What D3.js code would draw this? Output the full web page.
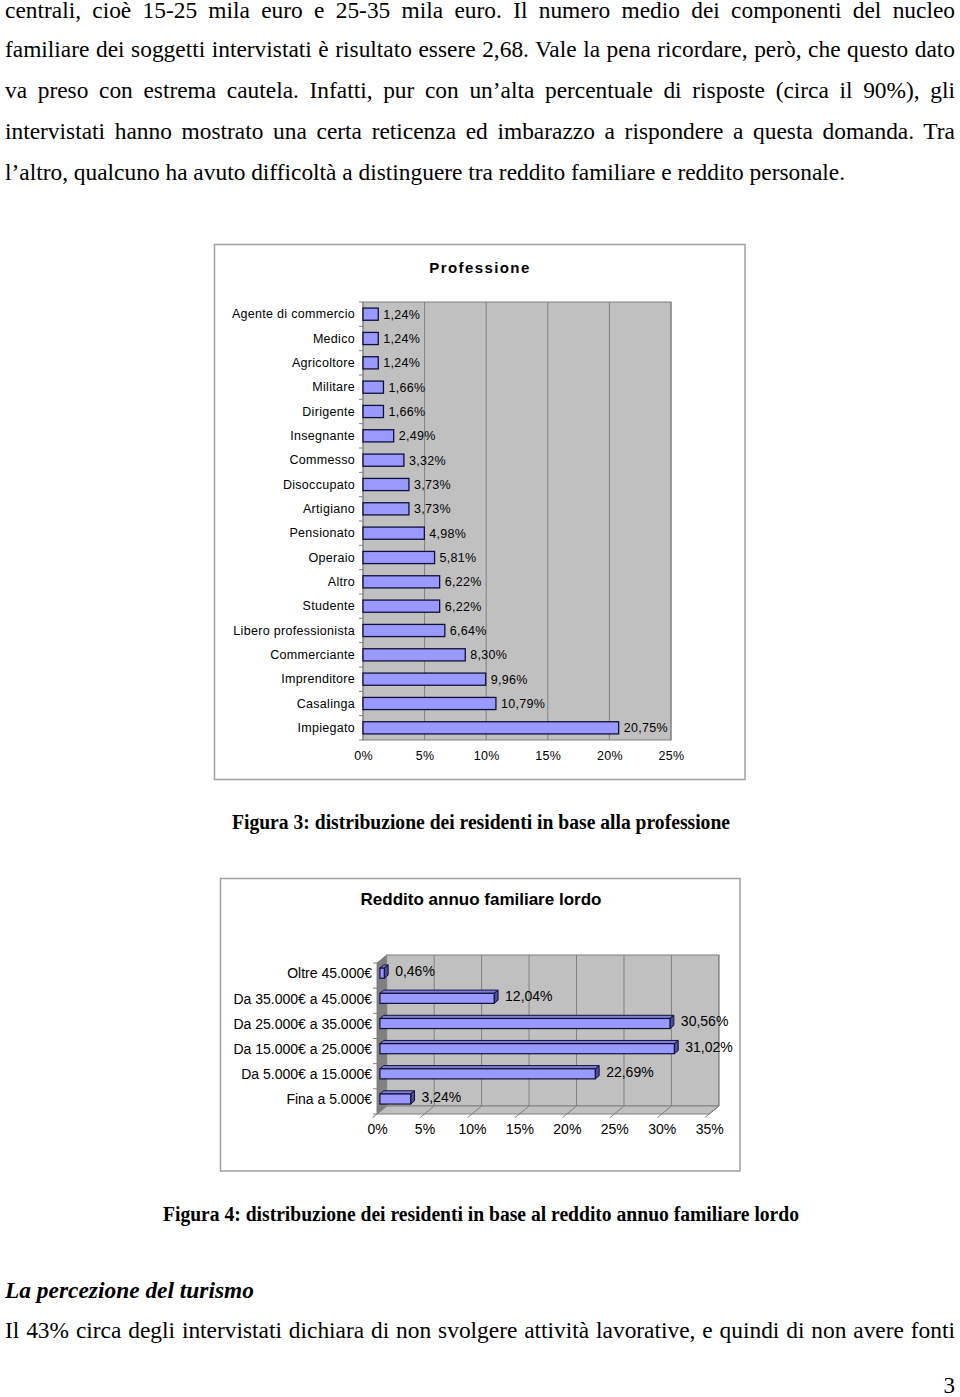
<!DOCTYPE html>
<html><head><meta charset="utf-8">
<script src="https://cdn.jsdelivr.net/npm/d3@7"></script>
<style>body{margin:0;background:#fff}svg{display:block}</style>
</head><body>
<script>
// ---------- DATA ----------
const profCategories = ["Agente di commercio","Medico","Agricoltore","Militare","Dirigente","Insegnante","Commesso","Disoccupato","Artigiano","Pensionato","Operaio","Altro","Studente","Libero professionista","Commerciante","Imprenditore","Casalinga","Impiegato"];
const profValues = [1.24,1.24,1.24,1.66,1.66,2.49,3.32,3.73,3.73,4.98,5.81,6.22,6.22,6.64,8.30,9.96,10.79,20.75];
const profTicks = [0,5,10,15,20,25];
const profTitle = "Professione";

const incomeCategories = ["Oltre 45.000€","Da 35.000€ a 45.000€","Da 25.000€ a 35.000€","Da 15.000€ a 25.000€","Da 5.000€ a 15.000€","Fina a 5.000€"];
const incomeValues = [0.46,12.04,30.56,31.02,22.69,3.24];
const incomeTicks = [0,5,10,15,20,25,30,35];
const incomeTitle = "Reddito annuo familiare lordo";

const introLines = [
  "centrali, cioè 15-25 mila euro e 25-35 mila euro. Il numero medio dei componenti del nucleo",
  "familiare dei soggetti intervistati è risultato essere 2,68. Vale la pena ricordare, però, che questo dato",
  "va preso con estrema cautela. Infatti, pur con un’alta percentuale di risposte (circa il 90%), gli",
  "intervistati hanno mostrato una certa reticenza ed imbarazzo a rispondere a questa domanda. Tra",
  "l’altro, qualcuno ha avuto difficoltà a distinguere tra reddito familiare e reddito personale."
];
const fig3Caption = "Figura 3: distribuzione dei residenti in base alla professione";
const fig4Caption = "Figura 4: distribuzione dei residenti in base al reddito annuo familiare lordo";
const headingText = "La percezione del turismo";
const closingLine = "Il 43% circa degli intervistati dichiara di non svolgere attività lavorative, e quindi di non avere fonti";
const pageNumber = "3";

// ---------- SETUP ----------
const W = 960, H = 1397;
const serif = "'Liberation Serif','Times New Roman',serif";
const sans = "'Liberation Sans',Arial,sans-serif";
const fmt = v => d3.format(".2f")(v).replace(".", ",") + "%";

const svg = d3.select("body").append("svg").attr("width", W).attr("height", H);
svg.append("rect").attr("width", W).attr("height", H).attr("fill", "#fff");

function textLine(str, x, y, o) {
  const t = svg.append("text").attr("x", x).attr("y", y)
    .attr("font-family", o.family || serif).attr("font-size", o.size)
    .attr("font-weight", o.weight || "normal").attr("font-style", o.style || "normal")
    .attr("fill", "#000").text(str);
  if (o.anchor) t.attr("text-anchor", o.anchor);
  if (o.justifyTo) {
    const nat = t.node().getComputedTextLength();
    const spaces = (str.match(/ /g) || []).length;
    const ws = (o.justifyTo - nat) / spaces;
    t.style("word-spacing", ws + "px");
  }
  if (o.fitTo) t.attr("textLength", o.fitTo).attr("lengthAdjust", "spacingAndGlyphs");
  return t;
}

// ---------- BODY TEXT ----------
const introBase = [18, 57, 98, 139, 180];
introLines.forEach((l, i) => {
  textLine(l, 5, introBase[i], {size: 23.4, justifyTo: i < 4 ? 950 : null});
});
textLine(fig3Caption, 232, 829, {size: 20, weight: "bold", fitTo: 498});
textLine(fig4Caption, 163, 1221, {size: 20, weight: "bold", fitTo: 636});
textLine(headingText, 5, 1298, {size: 23, weight: "bold", style: "italic", fitTo: 249});
textLine(closingLine, 5, 1338, {size: 23.4, justifyTo: 950});
textLine(pageNumber, 955, 1393, {size: 23, anchor: "end"});

// ---------- CHART 1: Professione ----------
{
  const g = svg.append("g");
  g.append("rect").attr("x", 214.5).attr("y", 244.5).attr("width", 530.5).attr("height", 535)
    .attr("fill", "#fff").attr("stroke", "#a0a0a0").attr("stroke-width", 1.5);
  g.append("text").attr("x", 480).attr("y", 273).attr("text-anchor", "middle")
    .attr("font-family", sans).attr("font-size", 15).attr("font-weight", "bold")
    .attr("letter-spacing", 1.4).text(profTitle);

  const x = d3.scaleLinear().domain([0, 25]).range([363, 671]);
  const y = d3.scaleBand().domain(profCategories).range([302, 740]).paddingInner(0.5).paddingOuter(0.25);

  g.append("rect").attr("x", x(0)).attr("y", 302).attr("width", x(25) - x(0)).attr("height", 438)
    .attr("fill", "#c0c0c0").attr("stroke", "#808080").attr("stroke-width", 1);
  g.selectAll(".grid").data(profTicks.slice(1)).join("line")
    .attr("x1", d => x(d)).attr("x2", d => x(d)).attr("y1", 302).attr("y2", 740)
    .attr("stroke", "#808080").attr("stroke-width", 1);
  const step = y.step();
  g.selectAll(".ctick").data(d3.range(profCategories.length + 1)).join("line")
    .attr("x1", x(0) - 4).attr("x2", x(0)).attr("y1", i => 302 + i * step).attr("y2", i => 302 + i * step)
    .attr("stroke", "#808080");
  g.append("line").attr("x1", x(0)).attr("x2", x(0)).attr("y1", 302).attr("y2", 740).attr("stroke", "#808080");

  const ax = g.append("g").attr("transform", `translate(${x(0)},0)`)
    .call(d3.axisLeft(y).tickSize(0).tickPadding(8));
  ax.select(".domain").remove();
  ax.selectAll("text").attr("font-family", sans).attr("font-size", 12.5).attr("letter-spacing", 0.3).attr("fill", "#000");

  const bx = g.append("g").attr("transform", `translate(0,740)`)
    .call(d3.axisBottom(x).tickValues(profTicks).tickFormat(d => d + "%").tickSize(0).tickPadding(11.5));
  bx.select(".domain").remove();
  bx.selectAll("text").attr("font-family", sans).attr("font-size", 12.5).attr("letter-spacing", 0.3).attr("fill", "#000");

  g.selectAll(".bar").data(profValues).join("rect")
    .attr("x", x(0)).attr("y", (d, i) => y(profCategories[i]))
    .attr("width", d => x(d) - x(0)).attr("height", y.bandwidth())
    .attr("fill", "#9999ff").attr("stroke", "#10103a").attr("stroke-width", 1.3);
  g.selectAll(".vlab").data(profValues).join("text")
    .attr("x", d => x(d) + 5).attr("y", (d, i) => y(profCategories[i]) + y.bandwidth() / 2)
    .attr("dy", "0.35em").attr("font-family", sans).attr("font-size", 12.5).attr("letter-spacing", 0.3)
    .attr("fill", "#000").text(d => fmt(d));
}

// ---------- CHART 2: Reddito (3D) ----------
{
  const g = svg.append("g");
  g.append("rect").attr("x", 220.5).attr("y", 878.5).attr("width", 519.5).attr("height", 292.5)
    .attr("fill", "#fff").attr("stroke", "#a0a0a0").attr("stroke-width", 1.5);
  g.append("text").attr("x", 481).attr("y", 905).attr("text-anchor", "middle")
    .attr("font-family", sans).attr("font-size", 17).attr("font-weight", "bold").text(incomeTitle);

  const DX = 9.7, DY = -8;
  const xF = d3.scaleLinear().domain([0, 35]).range([377, 709.2]);
  const yTop = 963, yBot = 1114;
  const y = d3.scaleBand().domain(incomeCategories).range([yTop, yBot]).paddingInner(0.6).paddingOuter(0.3);
  const step = y.step();
  const P = (pts) => pts.map(p => p.join(",")).join(" ");

  g.append("polygon").attr("points", P([[xF(0), yTop], [xF(0) + DX, yTop + DY], [xF(0) + DX, yBot + DY], [xF(0), yBot]]))
    .attr("fill", "#808080").attr("stroke", "#707070").attr("stroke-width", 0.8);
  g.append("rect").attr("x", xF(0) + DX).attr("y", yTop + DY).attr("width", xF(35) - xF(0)).attr("height", yBot - yTop)
    .attr("fill", "#c0c0c0").attr("stroke", "#808080");
  g.append("polygon").attr("points", P([[xF(0), yBot], [xF(0) + DX, yBot + DY], [xF(35) + DX, yBot + DY], [xF(35), yBot]]))
    .attr("fill", "#c0c0c0").attr("stroke", "#808080");
  g.selectAll(".bgrid").data(incomeTicks.slice(1)).join("line")
    .attr("x1", d => xF(d) + DX).attr("x2", d => xF(d) + DX).attr("y1", yTop + DY).attr("y2", yBot + DY)
    .attr("stroke", "#808080");
  g.selectAll(".fgrid").data(incomeTicks).join("line")
    .attr("x1", d => xF(d) + DX).attr("x2", d => xF(d) - DX * 0.45).attr("y1", yBot + DY).attr("y2", yBot - DY * 0.45)
    .attr("stroke", "#808080");
  g.selectAll(".ctick").data(d3.range(incomeCategories.length + 1)).join("line")
    .attr("x1", xF(0) - 4).attr("x2", xF(0)).attr("y1", i => yTop + i * step).attr("y2", i => yTop + i * step)
    .attr("stroke", "#808080");

  const d0 = 0.3, d1 = 0.7;
  const ox = DX * d0, oy = DY * d0, ddx = DX * (d1 - d0), ddy = DY * (d1 - d0);
  const bh = y.bandwidth();
  incomeValues.forEach((v, i) => {
    const c = incomeCategories[i];
    const xa = xF(0) + ox, xb = xF(v) + ox;
    const yt = y(c) + oy, yb = yt + bh;
    const bg = g.append("g");
    bg.append("polygon").attr("points", P([[xa, yt], [xb, yt], [xb + ddx, yt + ddy], [xa + ddx, yt + ddy]]))
      .attr("fill", "#8080d8").attr("stroke", "#10103a").attr("stroke-width", 1).attr("stroke-linejoin", "round");
    bg.append("polygon").attr("points", P([[xb, yt], [xb + ddx, yt + ddy], [xb + ddx, yb + ddy], [xb, yb]]))
      .attr("fill", "#4d4d99").attr("stroke", "#10103a").attr("stroke-width", 1).attr("stroke-linejoin", "round");
    bg.append("rect").attr("x", xa).attr("y", yt).attr("width", xb - xa).attr("height", bh)
      .attr("fill", "#9999ff").attr("stroke", "#10103a").attr("stroke-width", 1.2);
    g.append("text").attr("x", xb + ddx + 7).attr("y", yt + bh / 2 - 2).attr("dy", "0.35em")
      .attr("font-family", sans).attr("font-size", 14).attr("fill", "#000").text(fmt(v));
  });

  const ax = g.append("g").attr("transform", `translate(${xF(0)},0)`)
    .call(d3.axisLeft(y).tickSize(0).tickPadding(5));
  ax.select(".domain").remove();
  ax.selectAll("text").attr("font-family", sans).attr("font-size", 14).attr("fill", "#000").attr("dy", "0.2em");

  const bx = g.append("g").attr("transform", `translate(0,${yBot})`)
    .call(d3.axisBottom(xF).tickValues(incomeTicks).tickFormat(d => d + "%").tickSize(0).tickPadding(10));
  bx.select(".domain").remove();
  bx.selectAll("text").attr("font-family", sans).attr("font-size", 14).attr("fill", "#000");
}
</script>
</body></html>
